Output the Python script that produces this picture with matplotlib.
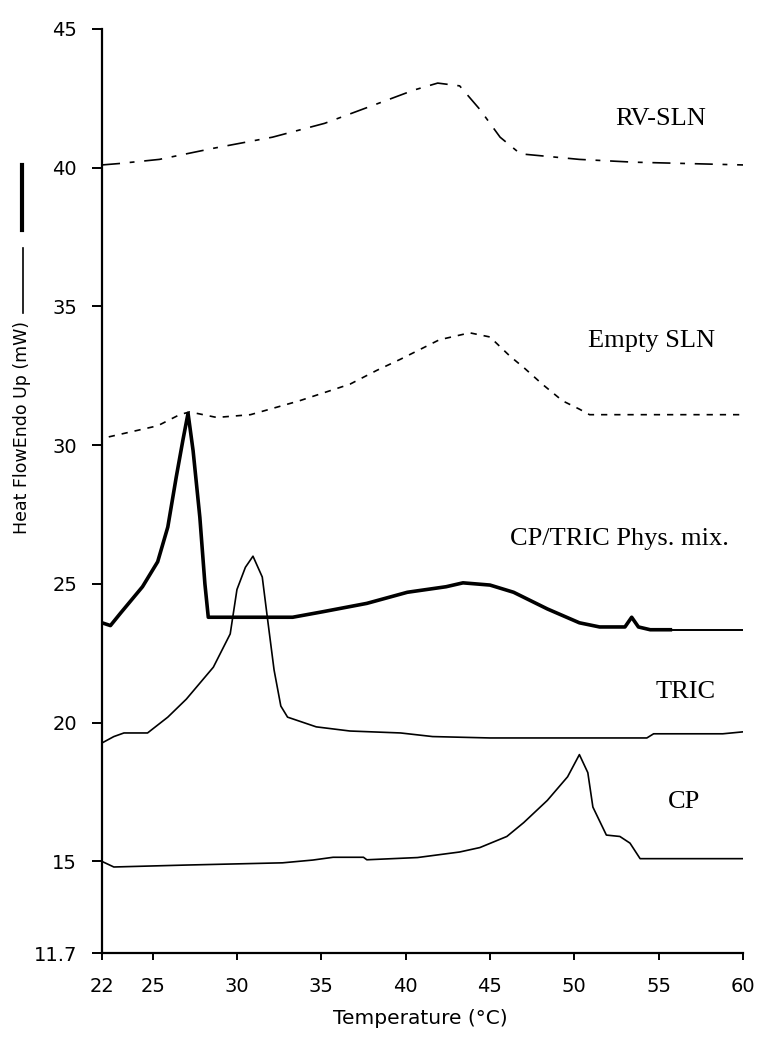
import matplotlib
matplotlib.use("Agg")
import matplotlib.pyplot as plt
from matplotlib.lines import Line2D

plt.rcParams['lines.scale_dashes'] = False

# temperature (C) / heat flow (mW)
rv_sln_t = [22, 23, 25.4, 28.6, 32.1, 35.2, 38.3, 40.5, 41.9, 43.2, 44.4, 45.6, 46.8, 50.3, 53.5, 60]
rv_sln_v = [40.1, 40.15, 40.3, 40.7, 41.1, 41.6, 42.3, 42.8, 43.05, 42.95, 42.1, 41.1, 40.5, 40.3, 40.2, 40.1]

empty_t = [22.4, 25.3, 26.6, 27.2, 28.8, 30.8, 33.7, 36.7, 38.3, 39.7, 42.0, 43.8, 45.0, 46.2, 47.0,
           48.1, 49.3, 50.3, 50.9, 60]
empty_v = [30.3, 30.7, 31.1, 31.2, 31.0, 31.1, 31.6, 32.2, 32.7, 33.1, 33.8, 34.05, 33.9, 33.2, 32.8,
           32.2, 31.6, 31.3, 31.1, 31.1]

mix_t = [22, 22.5, 23.1, 24.4, 25.3, 25.9, 26.4, 26.8, 27.1, 27.4, 27.8, 28.1, 28.3, 33.3, 35.1, 37.7,
         40.1, 42.4, 43.4, 45.0, 46.4, 48.4, 50.3, 51.5, 53.0, 53.4, 53.8, 54.5, 55.8, 60]
mix_v = [23.6, 23.5, 23.95, 24.9, 25.8, 27.05, 28.85, 30.2, 31.15, 29.8, 27.4, 25.0, 23.8, 23.8, 24.0, 24.3,
         24.7, 24.9, 25.04, 24.96, 24.7, 24.1, 23.6, 23.45, 23.45, 23.8, 23.45, 23.35, 23.35, 23.35]

tric_t = [22, 22.7, 23.3, 24.7, 25.9, 27.0, 28.6, 29.6, 30.0, 30.5, 30.95, 31.5, 31.8, 32.2, 32.6, 33.0,
          34.7, 36.7, 39.7, 41.6, 45.0, 54.3, 54.7, 58.8, 60]
tric_v = [19.27, 19.5, 19.63, 19.63, 20.2, 20.85, 22.0, 23.2, 24.8, 25.6, 26.0, 25.25, 23.8, 21.9, 20.6, 20.2,
          19.85, 19.7, 19.63, 19.5, 19.45, 19.45, 19.6, 19.6, 19.67]

cp_t = [22, 22.7, 27, 32.7, 34.5, 35.7, 37.5, 37.7, 40.7, 43.2, 44.4, 46.0, 47.0, 48.4, 49.6, 50.3, 50.8,
        51.1, 51.9, 52.7, 53.3, 53.9, 60]
cp_v = [15.0, 14.8, 14.87, 14.95, 15.05, 15.15, 15.15, 15.06, 15.14, 15.34, 15.5, 15.9, 16.4, 17.2, 18.05,
        18.85, 18.2, 16.96, 15.95, 15.9, 15.66, 15.1, 15.1]

x_ticks = [22, 25, 30, 35, 40, 45, 50, 55, 60]
y_ticks = [11.7, 15, 20, 25, 30, 35, 40, 45]
y_tick_labels = ['11.7', '15', '20', '25', '30', '35', '40', '45']

labels = ['RV-SLN', 'Empty SLN', 'CP/TRIC Phys. mix.', 'TRIC', 'CP']
label_pos = [(52.4, 41.54), (50.8, 33.54), (46.2, 26.4), (54.8, 20.9), (55.55, 16.93)]

fig = plt.figure(figsize=(7.63, 10.46), dpi=100)
ax = fig.add_axes([0.1337, 0.0889, 0.8401, 0.8834])

ax.plot(rv_sln_t, rv_sln_v, color='k', lw=1.2, dashes=[13, 7, 3.5, 7])
ax.plot(empty_t, empty_v, color='k', lw=1.2, dashes=[4.5, 5])
# thick mix curve, thinner on the flat tail
ax.plot(mix_t[:-1], mix_v[:-1], color='k', lw=2.6, solid_capstyle='butt')
ax.plot(mix_t[-2:], mix_v[-2:], color='k', lw=1.4)
ax.plot(tric_t, tric_v, color='k', lw=1.2)
ax.plot(cp_t, cp_v, color='k', lw=1.2)

for txt, (tx, ty) in zip(labels, label_pos):
    ax.text(tx, ty, txt, family='Liberation Serif', fontsize=19, va='baseline', ha='left')

ax.set_xlim(22, 60)
ax.set_ylim(11.7, 45)
ax.set_xticks(x_ticks)
ax.set_yticks(y_ticks)
ax.set_yticklabels(y_tick_labels)
ax.spines['top'].set_visible(False)
ax.spines['right'].set_visible(False)
for s in ('left', 'bottom'):
    ax.spines[s].set_linewidth(1.6)
ax.tick_params(axis='both', direction='out', width=1.4, labelsize=14)
ax.tick_params(axis='y', length=7, pad=11)
ax.tick_params(axis='x', length=5, pad=12)

fig.text(22 / 763, 1 - 428 / 1046, 'Heat FlowEndo Up (mW)', rotation=90, ha='center', va='center',
         fontsize=12.5)
fig.text(420 / 763, 1 - 1018 / 1046, 'Temperature (°C)', ha='center', va='center', fontsize=14.5)

# line samples next to the axis title
fig.add_artist(Line2D([22 / 763, 22 / 763], [1 - 165 / 1046, 1 - 230 / 1046], color='k', lw=3))
fig.add_artist(Line2D([23 / 763, 23 / 763], [1 - 248 / 1046, 1 - 313 / 1046], color='k', lw=1.2))

fig.savefig('out.png', dpi=100)
